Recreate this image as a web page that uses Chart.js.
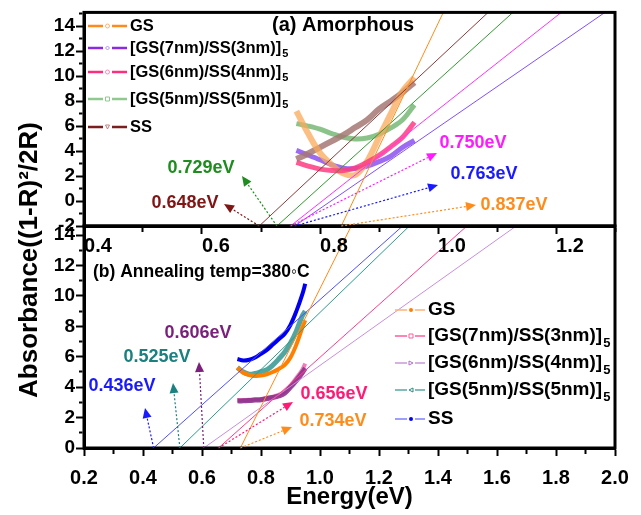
<!DOCTYPE html>
<html>
<head>
<meta charset="utf-8">
<script src="https://cdn.jsdelivr.net/npm/chart.js@4.4.1/dist/chart.umd.min.js"></script>
<style>
html,body{margin:0;padding:0;background:#fff;}
#wrap{position:relative;width:641px;height:515px;overflow:hidden;background:#fff;}
#wrap canvas{position:absolute;left:0;top:0;}
</style>
</head>
<body>
<div id="wrap">
<canvas id="chartB" width="641" height="515"></canvas>
<canvas id="chartA" width="641" height="515"></canvas>
</div>
<script>
// ---------------- DATA ----------------
// series names (legend), with subscript part
const seriesNames = ['GS', '[GS(7nm)/SS(3nm)]', '[GS(6nm)/SS(4nm)]', '[GS(5nm)/SS(5nm)]', 'SS'];
const seriesSubs  = ['', '5', '5', '5', ''];

// Panel (a) Amorphous
const energyA   = [0.76, 0.78, 0.80, 0.82, 0.84, 0.86, 0.88, 0.90, 0.92, 0.94, 0.96];
const absA_GS   = [7.2, 5.4, 3.85, 2.9, 2.2, 2.1, 3.2, 5.1, 7.0, 8.8, 9.9];
const absA_GS73 = [4.05, 3.68, 3.3, 2.9, 2.63, 2.6, 2.8, 3.15, 3.6, 4.3, 4.85];
const absA_GS64 = [3.1, 2.8, 2.55, 2.45, 2.45, 2.65, 3.1, 3.65, 4.35, 5.1, 6.3];
const absA_GS55 = [6.2, 6.0, 5.75, 5.4, 5.1, 4.97, 5.05, 5.35, 5.85, 6.5, 7.7];
const absA_SS   = [3.35, 3.8, 4.3, 4.8, 5.3, 5.9, 6.5, 7.35, 8.0, 8.7, 9.5];
// linear fits (a): energy where each fit line meets the bottom / top edge
const fitYA     = [-2, 15.1];
const fitA_GS   = [0.836, 1.009];
const fitA_GS73 = [0.757, 1.283];
const fitA_GS64 = [0.750, 1.209];
const fitA_GS55 = [0.727, 1.127];
const fitA_SS   = [0.697, 1.085];
const gapLabelsA = ['0.837eV', '0.763eV', '0.750eV', '0.729eV', '0.648eV'];

// Panel (b) Annealed 380C
const energyB   = [0.72, 0.74, 0.76, 0.78, 0.80, 0.82, 0.84, 0.86, 0.88, 0.90, 0.92, 0.94, 0.95];
const absB_GS   = [5.3, 4.95, 4.8, 4.74, 4.76, 4.85, 5.0, 5.2, 5.45, 5.95, 6.8, 7.9, 8.4];
const absB_GS73 = [3.15, 3.15, 3.17, 3.2, 3.23, 3.3, 3.38, 3.5, 3.7, 4.1, 4.6, 5.15, 5.55];
const absB_GS64 = [3.1, 3.1, 3.12, 3.15, 3.18, 3.25, 3.32, 3.42, 3.6, 4.0, 4.45, 4.95, 5.25];
const absB_GS55 = [5.3, 5.0, 4.85, 4.9, 5.02, 5.15, 5.45, 5.85, 6.3, 6.9, 7.7, 8.7, 9.0];
const absB_SS   = [5.85, 5.75, 5.8, 5.95, 6.2, 6.45, 6.8, 7.15, 7.5, 8.1, 9.0, 10.1, 10.8];
const fitYB     = [0, 14.6];
const fitB_GS   = [0.730, 1.106];
const fitB_GS73 = [0.656, 1.498];
const fitB_GS64 = [0.606, 1.665];
const fitB_GS55 = [0.525, 1.303];
const fitB_SS   = [0.436, 1.280];
const gapLabelsB = ['0.734eV', '0.656eV', '0.606eV', '0.525eV', '0.436eV'];

// ticks
const xTicksA  = [0.4, 0.5, 0.6, 0.7, 0.8, 0.9, 1.0, 1.1, 1.2, 1.3];
const xLabelsA = ['0.4', '', '0.6', '', '0.8', '', '1.0', '', '1.2', ''];
const yTicksA  = [-2, -1, 0, 1, 2, 3, 4, 5, 6, 7, 8, 9, 10, 11, 12, 13, 14, 15];
const yLabelsA = ['-2', '', '0', '', '2', '', '4', '', '6', '', '8', '', '10', '', '12', '', '14', ''];
const xTicksB  = [0.2, 0.3, 0.4, 0.5, 0.6, 0.7, 0.8, 0.9, 1.0, 1.1, 1.2, 1.3, 1.4, 1.5, 1.6, 1.7, 1.8, 1.9, 2.0];
const xLabelsB = ['0.2', '', '0.4', '', '0.6', '', '0.8', '', '1.0', '', '1.2', '', '1.4', '', '1.6', '', '1.8', '', '2.0'];
const yTicksB  = [0, 1, 2, 3, 4, 5, 6, 7, 8, 9, 10, 11, 12, 13, 14];
const yLabelsB = ['0', '', '2', '', '4', '', '6', '', '8', '', '10', '', '12', '', '14'];

// ---------------- HELPERS ----------------
const FONT = "'Liberation Sans', Arial, Helvetica, sans-serif";
const pts = (xs, ys) => xs.map((x, i) => ({x: x, y: ys[i]}));
const fitPts = (xs, ys) => [{x: xs[0], y: ys[0]}, {x: xs[1], y: ys[1]}];

function curve(label, data, color, width, order) {
  return {label, data, showLine: true, borderColor: color, backgroundColor: color,
    borderWidth: width, pointRadius: 0, tension: 0.35, order: order, fill: false};
}
function fitLine(data, color) {
  return {label: 'fit', data, showLine: true, borderColor: color, borderWidth: 1,
    pointRadius: 0, tension: 0, order: 0, fill: false};
}

function drawMarker(ctx, type, x, y, r, color) {
  ctx.save();
  ctx.strokeStyle = color; ctx.fillStyle = color; ctx.lineWidth = 1;
  ctx.beginPath();
  if (type === 'circle') { ctx.arc(x, y, r, 0, Math.PI * 2); ctx.stroke(); }
  else if (type === 'dot') { ctx.arc(x, y, r, 0, Math.PI * 2); ctx.fill(); }
  else if (type === 'square') { ctx.rect(x - r, y - r, 2 * r, 2 * r); ctx.stroke(); }
  else if (type === 'diamond') { ctx.moveTo(x, y - r); ctx.lineTo(x + r, y); ctx.lineTo(x, y + r); ctx.lineTo(x - r, y); ctx.closePath(); ctx.stroke(); }
  else if (type === 'triR') { ctx.moveTo(x - r, y - r); ctx.lineTo(x + r, y); ctx.lineTo(x - r, y + r); ctx.closePath(); ctx.stroke(); }
  else if (type === 'triL') { ctx.moveTo(x + r, y - r); ctx.lineTo(x - r, y); ctx.lineTo(x + r, y + r); ctx.closePath(); ctx.stroke(); }
  else if (type === 'triD') { ctx.moveTo(x - r, y - r); ctx.lineTo(x + r, y - r); ctx.lineTo(x, y + r); ctx.closePath(); ctx.stroke(); }
  ctx.restore();
}

function arrow(ctx, x1, y1, x2, y2, color) {
  ctx.save();
  ctx.strokeStyle = color; ctx.fillStyle = color; ctx.lineWidth = 1.2;
  const a = Math.atan2(y2 - y1, x2 - x1), hl = 10, hw = 4.5;
  const bx = x2 - hl * Math.cos(a), by = y2 - hl * Math.sin(a);
  ctx.setLineDash([2, 2]);
  ctx.beginPath(); ctx.moveTo(x1, y1); ctx.lineTo(bx, by); ctx.stroke();
  ctx.setLineDash([]);
  ctx.beginPath(); ctx.moveTo(x2, y2);
  ctx.lineTo(bx + hw * Math.sin(a), by - hw * Math.cos(a));
  ctx.lineTo(bx - hw * Math.sin(a), by + hw * Math.cos(a));
  ctx.closePath(); ctx.fill();
  ctx.restore();
}

function legendText(ctx, name, sub, x, y, size) {
  ctx.save();
  ctx.fillStyle = '#000'; ctx.textBaseline = 'middle'; ctx.textAlign = 'left';
  ctx.font = 'bold ' + size + 'px ' + FONT;
  ctx.fillText(name, x, y);
  if (sub) {
    const w = ctx.measureText(name).width;
    ctx.font = 'bold ' + Math.round(size * 0.68) + 'px ' + FONT;
    ctx.fillText(sub, x + w + 1, y + size * 0.38);
  }
  ctx.restore();
}

const framePlugin = {
  id: 'frame',
  afterDraw(chart) {
    const a = chart.chartArea, ctx = chart.ctx;
    ctx.save(); ctx.strokeStyle = '#000'; ctx.lineWidth = 3;
    ctx.strokeRect(a.left, a.top, a.right - a.left, a.bottom - a.top);
    ctx.restore();
  }
};

function axisX(ticksArr, labelsArr, min, max, height, labelOffset, pad, title) {
  return {
    type: 'linear', position: 'bottom', min, max,
    afterBuildTicks: (s) => { s.ticks = ticksArr.map(v => ({value: v})); },
    afterFit: (s) => { s.height = height; },
    ticks: {
      autoSkip: false, maxRotation: 0, minRotation: 0, padding: pad, labelOffset: labelOffset,
      color: '#000', font: {family: FONT, size: 20, weight: 'bold'},
      callback: (v, i) => labelsArr[i]
    },
    grid: {
      drawOnChartArea: false, drawTicks: true, tickLength: 8, tickWidth: 2, tickColor: '#000',
      tickBorderDash: (c) => (labelsArr[c.index] === '' ? [4, 100] : [])
    },
    border: {display: true, color: '#000', width: 3},
    title: title ? {display: true, text: title, color: '#000',
      font: {family: FONT, size: 24, weight: 'bold', lineHeight: 1}, padding: {top: 0, bottom: 6}} : {display: false}
  };
}
function axisY(ticksArr, labelsArr, min, max) {
  return {
    type: 'linear', position: 'left', min, max,
    afterBuildTicks: (s) => { s.ticks = ticksArr.map(v => ({value: v})); },
    afterFit: (s) => { s.width = 84; },
    ticks: {
      autoSkip: false, padding: 1, color: '#000',
      font: {family: FONT, size: 19, weight: 'bold'},
      callback: (v, i) => labelsArr[i]
    },
    grid: {
      drawOnChartArea: false, drawTicks: true, tickLength: 8, tickWidth: 2, tickColor: '#000',
      tickBorderDash: (c) => (labelsArr[c.index] === '' ? [0, 3, 3.5, 100] : [])
    },
    border: {display: true, color: '#000', width: 3}
  };
}

// ---------------- PANEL (a) ----------------
const legendStyleA = [
  {line: '#ff8c1a', mk: '#ffb070', type: 'circle'},
  {line: '#8a2be2', mk: '#b08af0', type: 'diamond'},
  {line: '#ff2d7d', mk: '#ff8ab8', type: 'circle'},
  {line: '#8fc98f', mk: '#8fc98f', type: 'square'},
  {line: '#7a1f1f', mk: '#c08080', type: 'triD'}
];
const annotA = [
  {text: gapLabelsA[0], color: '#ff8c1a', cx: 514, cy: 205, from: fitA_GS,   tip: [476, 205]},
  {text: gapLabelsA[1], color: '#1a1aff', cx: 484, cy: 174, from: fitA_GS73, tip: [438, 185]},
  {text: gapLabelsA[2], color: '#ff1aff', cx: 473, cy: 143, from: fitA_GS64, tip: [437, 153]},
  {text: gapLabelsA[3], color: '#1e8c1e', cx: 201, cy: 168, from: fitA_GS55, tip: [242, 176]},
  {text: gapLabelsA[4], color: '#801515', cx: 185, cy: 203, from: fitA_SS,   tip: [224, 204]}
];
const decorA = {
  id: 'decorA',
  afterDraw(chart) {
    const ctx = chart.ctx, xs = chart.scales.x, ys = chart.scales.y;
    annotA.forEach(a => {
      arrow(ctx, xs.getPixelForValue(a.from[0]), ys.getPixelForValue(fitYA[0]), a.tip[0], a.tip[1], a.color);
    });
    ctx.save();
    ctx.textAlign = 'center'; ctx.textBaseline = 'middle';
    ctx.font = 'bold 18px ' + FONT;
    annotA.forEach(a => { ctx.fillStyle = a.color; ctx.fillText(a.text, a.cx, a.cy); });
    ctx.fillStyle = '#000'; ctx.textAlign = 'left';
    ctx.font = 'bold 20px ' + FONT;
    ctx.fillText('(a) Amorphous', 272, 25);
    ctx.restore();
    // legend
    const rows = [26, 48, 72, 99, 127];
    seriesNames.forEach((n, i) => {
      const st = legendStyleA[i], y = rows[i];
      ctx.save(); ctx.strokeStyle = st.line; ctx.lineWidth = 2.5;
      ctx.beginPath(); ctx.moveTo(88, y); ctx.lineTo(103, y); ctx.moveTo(112, y); ctx.lineTo(127, y); ctx.stroke();
      ctx.restore();
      drawMarker(ctx, st.type, 107.5, y, 2, st.mk);
      legendText(ctx, n, seriesSubs[i], 130, y, 16.5);
    });
  }
};

new Chart(document.getElementById('chartA'), {
  type: 'scatter',
  data: {
    datasets: [
      fitLine(fitPts(fitA_GS, fitYA), '#ff8c1a'),
      fitLine(fitPts(fitA_GS73, fitYA), '#8050ff'),
      fitLine(fitPts(fitA_GS64, fitYA), '#ff33ff'),
      fitLine(fitPts(fitA_GS55, fitYA), '#339933'),
      fitLine(fitPts(fitA_SS, fitYA), '#8b3a3a'),
      curve(seriesNames[4], pts(energyA, absA_SS),   'rgba(165,120,115,0.85)', 6, 2),
      curve(seriesNames[3], pts(energyA, absA_GS55), 'rgba(110,180,110,0.8)', 5, 2),
      curve(seriesNames[1], pts(energyA, absA_GS73), 'rgba(140,80,240,0.85)', 5, 2),
      curve(seriesNames[2], pts(energyA, absA_GS64), 'rgba(255,60,130,0.85)', 5, 1),
      curve(seriesNames[0], pts(energyA, absA_GS),   'rgba(250,170,90,0.75)', 6, 1)
    ]
  },
  options: {
    responsive: false, animation: false, devicePixelRatio: 1, events: [],
    layout: {padding: {top: 10, right: 26, left: 0, bottom: 0}},
    plugins: {legend: {display: false}, tooltip: {enabled: false}},
    scales: {
      x: axisX(xTicksA, xLabelsA, 0.4, 1.3, 289, 14, 0, null),
      y: axisY(yTicksA, yLabelsA, -2, 15.1)
    }
  },
  plugins: [framePlugin, decorA]
});

// ---------------- PANEL (b) ----------------
const legendStyleB = [
  {line: '#ffb27a', mk: '#ff7f00', type: 'dot'},
  {line: '#ff5c9d', mk: '#ff5c9d', type: 'square'},
  {line: '#c89ad8', mk: '#b070c8', type: 'triR'},
  {line: '#5aa9a0', mk: '#2a8a80', type: 'triL'},
  {line: '#8080ff', mk: '#0000ff', type: 'dot'}
];
const annotB = [
  {text: gapLabelsB[0], color: '#ff8c1a', cx: 333, cy: 421, from: fitB_GS,   tip: [292, 427]},
  {text: gapLabelsB[1], color: '#ff1a75', cx: 334, cy: 394, from: fitB_GS73, tip: [293, 402]},
  {text: gapLabelsB[2], color: '#7a1f7a', cx: 198, cy: 333, from: fitB_GS64, tip: [199, 362]},
  {text: gapLabelsB[3], color: '#1a8080', cx: 157, cy: 357, from: fitB_GS55, tip: [173, 383]},
  {text: gapLabelsB[4], color: '#1a1aff', cx: 122, cy: 386, from: fitB_SS,   tip: [145, 408]}
];
const decorB = {
  id: 'decorB',
  afterDraw(chart) {
    const ctx = chart.ctx, xs = chart.scales.x, ys = chart.scales.y;
    annotB.forEach(a => {
      arrow(ctx, xs.getPixelForValue(a.from[0]), ys.getPixelForValue(fitYB[0]), a.tip[0], a.tip[1], a.color);
    });
    ctx.save();
    ctx.textAlign = 'center'; ctx.textBaseline = 'middle';
    ctx.font = 'bold 18px ' + FONT;
    annotB.forEach(a => { ctx.fillStyle = a.color; ctx.fillText(a.text, a.cx, a.cy); });
    ctx.fillStyle = '#000'; ctx.textAlign = 'left';
    ctx.font = 'bold 17.5px ' + FONT;
    ctx.fillText('(b) Annealing temp=380\u25E6C', 93, 272);
    // y axis title (shared)
    ctx.translate(30, 260); ctx.rotate(-Math.PI / 2);
    ctx.textAlign = 'center';
    ctx.font = 'bold 26px ' + FONT;
    ctx.fillText('Absorbance((1-R)\u00B2/2R)', 0, 0);
    ctx.restore();
    // legend
    const rows = [310, 336, 363, 390, 419];
    seriesNames.forEach((n, i) => {
      const st = legendStyleB[i], y = rows[i];
      ctx.save(); ctx.strokeStyle = st.line; ctx.lineWidth = 1.5;
      ctx.beginPath(); ctx.moveTo(395, y); ctx.lineTo(407, y); ctx.moveTo(415, y); ctx.lineTo(425, y); ctx.stroke();
      ctx.restore();
      drawMarker(ctx, st.type, 411, y, 2, st.mk);
      legendText(ctx, n, seriesSubs[i], 428, y, 19);
    });
  }
};

new Chart(document.getElementById('chartB'), {
  type: 'scatter',
  data: {
    datasets: [
      fitLine(fitPts(fitB_GS, fitYB), '#ff8c1a'),
      fitLine(fitPts(fitB_GS73, fitYB), '#ff3d8b'),
      fitLine(fitPts(fitB_GS64, fitYB), '#c98fdc'),
      fitLine(fitPts(fitB_GS55, fitYB), '#2a9d8f'),
      fitLine(fitPts(fitB_SS, fitYB), '#5050ff'),
      curve(seriesNames[1], pts(energyB, absB_GS73), 'rgba(240,110,175,0.9)', 4, 3),
      curve(seriesNames[2], pts(energyB, absB_GS64), 'rgba(140,50,140,0.9)', 5, 2),
      curve(seriesNames[3], pts(energyB, absB_GS55), 'rgba(50,150,145,0.85)', 5, 2),
      curve(seriesNames[0], pts(energyB, absB_GS),   '#ff8000', 4, 1),
      curve(seriesNames[4], pts(energyB, absB_SS),   '#0000ee', 4, 1)
    ]
  },
  options: {
    responsive: false, animation: false, devicePixelRatio: 1, events: [],
    layout: {padding: {top: 226, right: 26, left: 0, bottom: 0}},
    plugins: {legend: {display: false}, tooltip: {enabled: false}},
    scales: {
      x: axisX(xTicksB, xLabelsB, 0.2, 2.0, 67, 0, 10, 'Energy(eV)'),
      y: axisY(yTicksB, yLabelsB, 0, 14.6)
    }
  },
  plugins: [framePlugin, decorB]
});
</script>
</body>
</html>
